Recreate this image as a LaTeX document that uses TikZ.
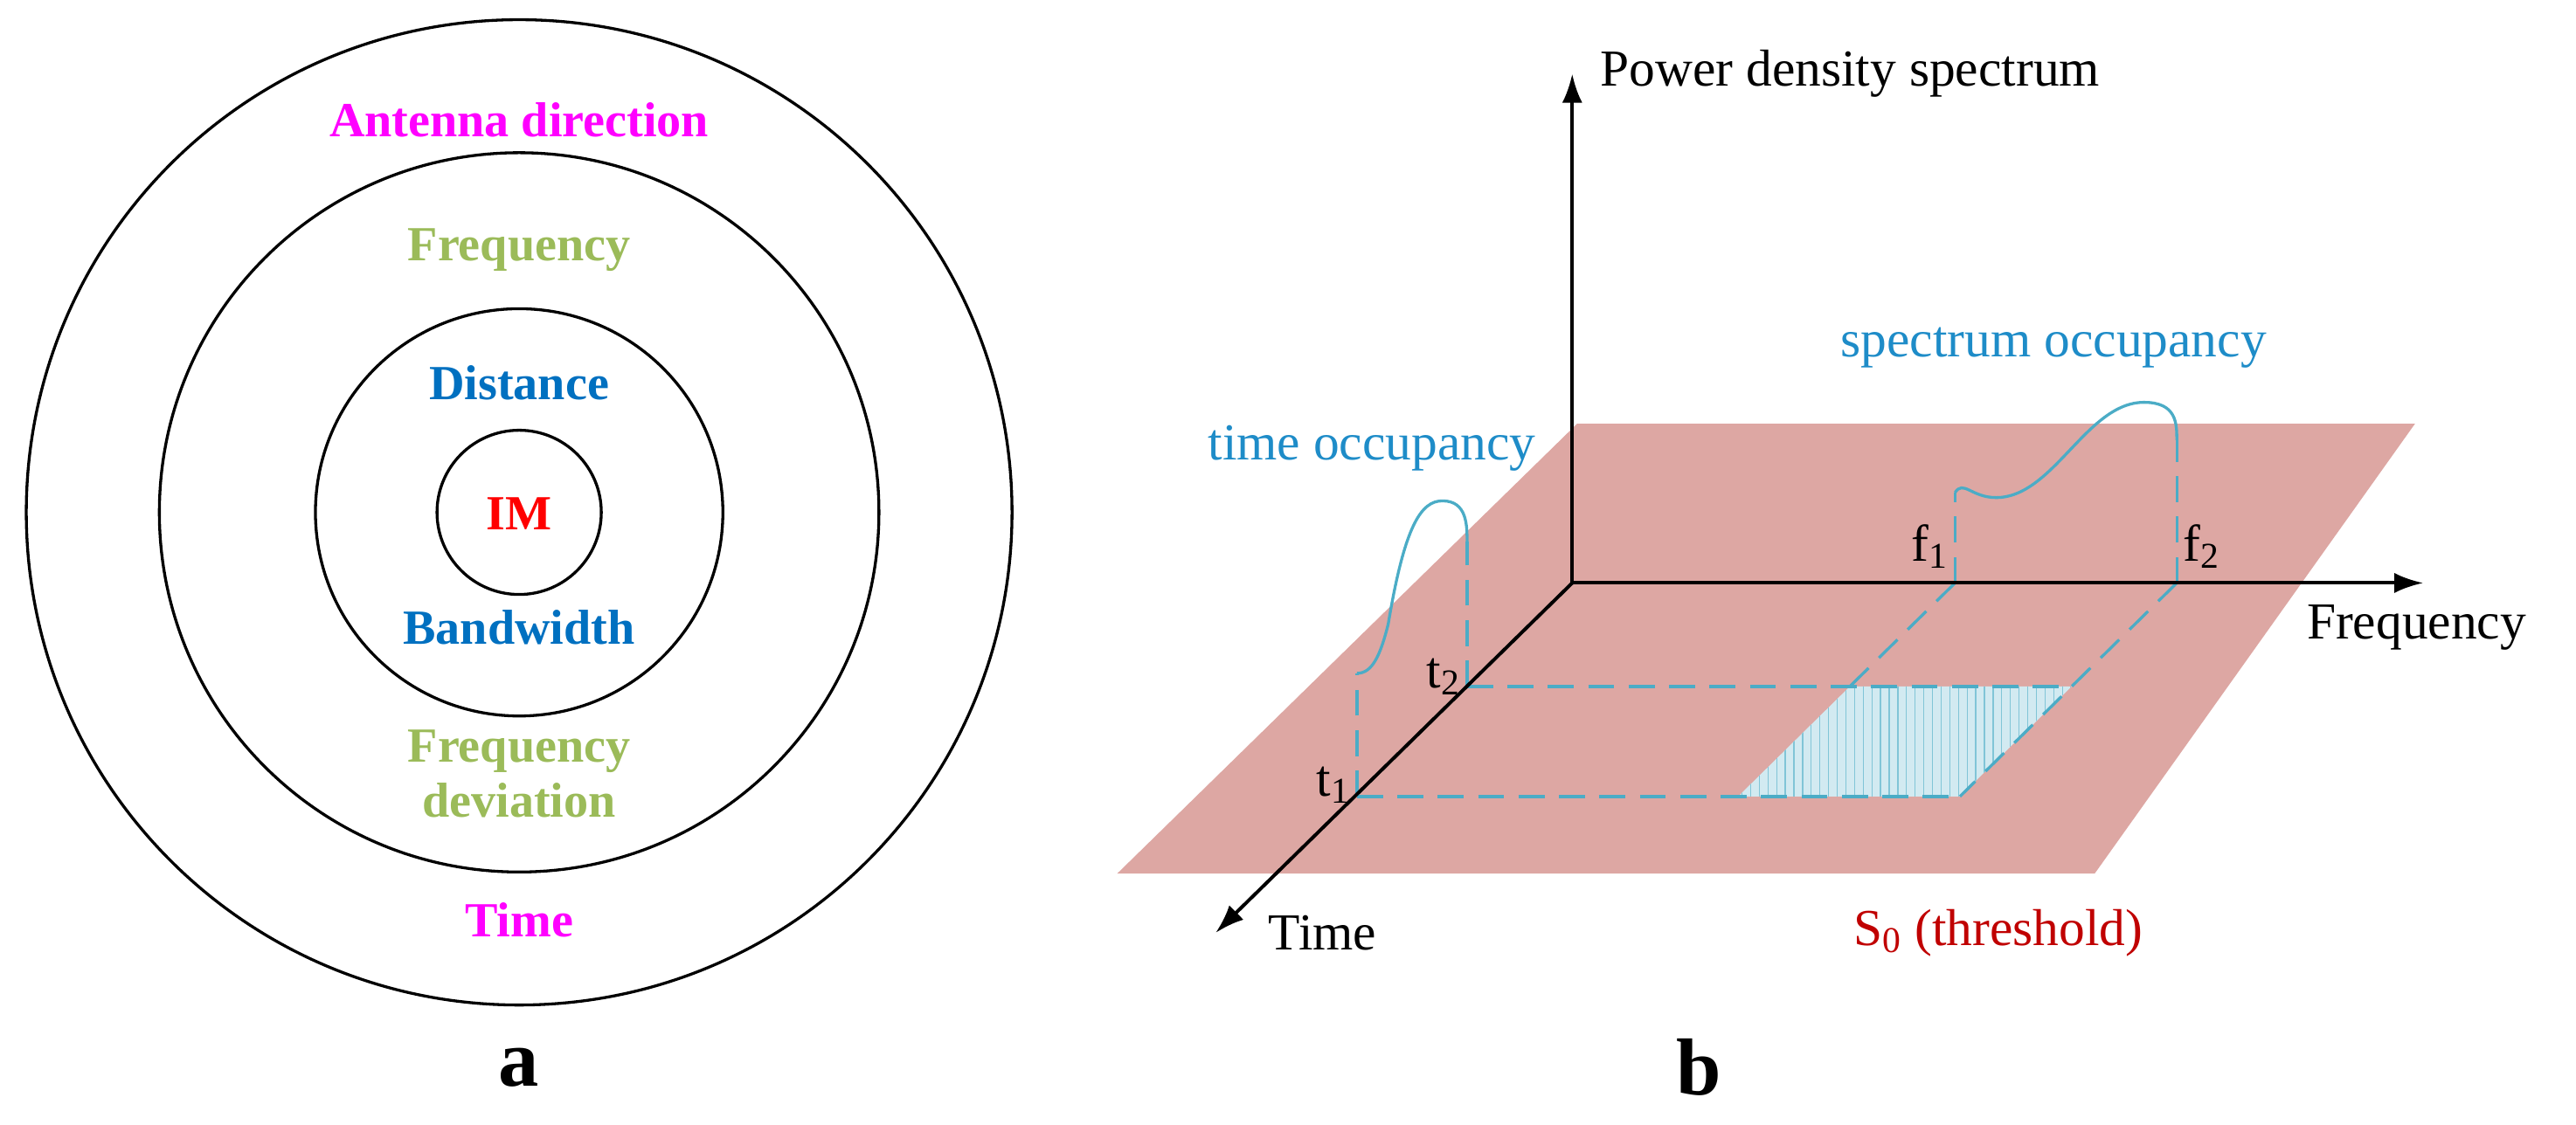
\documentclass[tikz,border=0pt]{standalone}
\usepackage{fontspec}
\setmainfont{Liberation Serif}
\usetikzlibrary{positioning,patterns,arrows.meta}
\definecolor{imred}{RGB}{255,0,0}
\definecolor{magent}{RGB}{255,0,255}
\definecolor{olivegr}{RGB}{155,187,89}
\definecolor{lblue}{RGB}{0,112,192}
\definecolor{plane}{RGB}{221,167,163}
\definecolor{occ}{RGB}{75,172,198}
\definecolor{occtext}{RGB}{30,140,200}
\definecolor{thr}{RGB}{192,0,0}
\tikzset{
	ring/.style={draw=black,line width=1pt},
	lab/.style={font=\fontsize{17}{19}\selectfont\bfseries,align=center},
	axis/.style={line width=1.2pt,-{Latex[length=10pt,width=7pt]}},
	ax/.style={font=\fontsize{18}{20}\selectfont},
	occline/.style={draw=occ,line width=1pt,dash pattern=on 9pt off 5pt},
	panel/.style={font=\fontsize{28}{30}\selectfont\bfseries}
}
\begin{document}
\begin{tikzpicture}[x=0.02cm,y=-0.02cm]
	\useasboundingbox (0,0) rectangle (1568,685);
	% panel a
	\coordinate (c) at (316,312);
	\draw [ring] (c) circle (300);
	\draw [ring] (c) circle (219);
	\draw [ring] (c) circle (124);
	\draw [ring] (c) circle (50);
	\node [lab,text=magent] (ant) at (316,73) {Antenna direction};
	\node [lab,text=olivegr] (freq) at (316,152) {Frequency};
	\node [lab,text=lblue] (dist) at (316,233) {Distance};
	\node [lab,text=imred] (im) at (316,313) {IM};
	\node [lab,text=lblue] (bw) at (316,382) {Bandwidth};
	\node [lab,text=olivegr] (dev) at (316,471) {Frequency\\deviation};
	\node [lab,text=magent] (time) at (316,560) {Time};
	\node [panel] (capa) at (316,650) {a};
	% panel b
	\fill [plane] (960,258) -- (1470,258) -- (1275,532) -- (680,532) -- cycle;
	\fill [occ!25] (1126,418) -- (1261,418) -- (1193,485) -- (1058,485) -- cycle;
	\fill [pattern=vertical lines,pattern color=occ!70] (1126,418) -- (1261,418) -- (1193,485) -- (1058,485) -- cycle;
	\coordinate (o) at (957,355);
	\coordinate (t2) at (893,418);
	\coordinate (t1) at (826,485);
	\coordinate (f1) at (1190,355);
	\coordinate (f2) at (1325,355);
	\draw [occline] (t2) -- (1261,418);
	\draw [occline] (t1) -- (1193,485);
	\draw [occline] (f1) -- (1126,418);
	\draw [occline] (f2) -- (1193,485);
	\draw [occline] (f1) -- (1190,300);
	\draw [occline] (f2) -- (1325,268);
	\draw [occline] (t1) -- (826,410);
	\draw [occline] (t2) -- (893,330);
	\draw [occ,line width=1pt] (1190,300) .. controls (1195,292) and (1200,303) .. (1215,303)
		.. controls (1250,303) and (1270,245) .. (1305,245) .. controls (1325,245) and (1325,258) .. (1325,268);
	\draw [occ,line width=1pt] (826,410) .. controls (835,410) and (840,400) .. (845,380)
		.. controls (855,320) and (865,305) .. (878,305) .. controls (893,305) and (893,320) .. (893,330);
	\draw [axis] (o) -- (957,45);
	\draw [axis] (o) -- (1475,355);
	\draw [axis] (o) -- (740,568);
	\node [ax,anchor=west] (pds) at (968,45) {Power density spectrum};
	\node [ax,anchor=west] (fq) at (1398,382) {Frequency};
	\node [ax,anchor=west] (tm) at (766,568) {Time};
	\node [ax,anchor=south east,inner sep=2pt] (f1l) at (1190,350) {f\textsubscript{1}};
	\node [ax,anchor=south west,inner sep=2pt] (f2l) at (1325,350) {f\textsubscript{2}};
	\node [ax,anchor=east,inner sep=2pt] (t2l) at (893,412) {t\textsubscript{2}};
	\node [ax,anchor=east,inner sep=2pt] (t1l) at (826,478) {t\textsubscript{1}};
	\node [ax,text=occtext] (so) at (1250,212) {spectrum occupancy};
	\node [ax,text=occtext] (to) at (835,273) {time occupancy};
	\node [ax,text=thr,anchor=west] (s0) at (1122,568) {S\textsubscript{0} (threshold)};
	\node [panel] (capb) at (1034,650) {b};
\end{tikzpicture}
\end{document}
